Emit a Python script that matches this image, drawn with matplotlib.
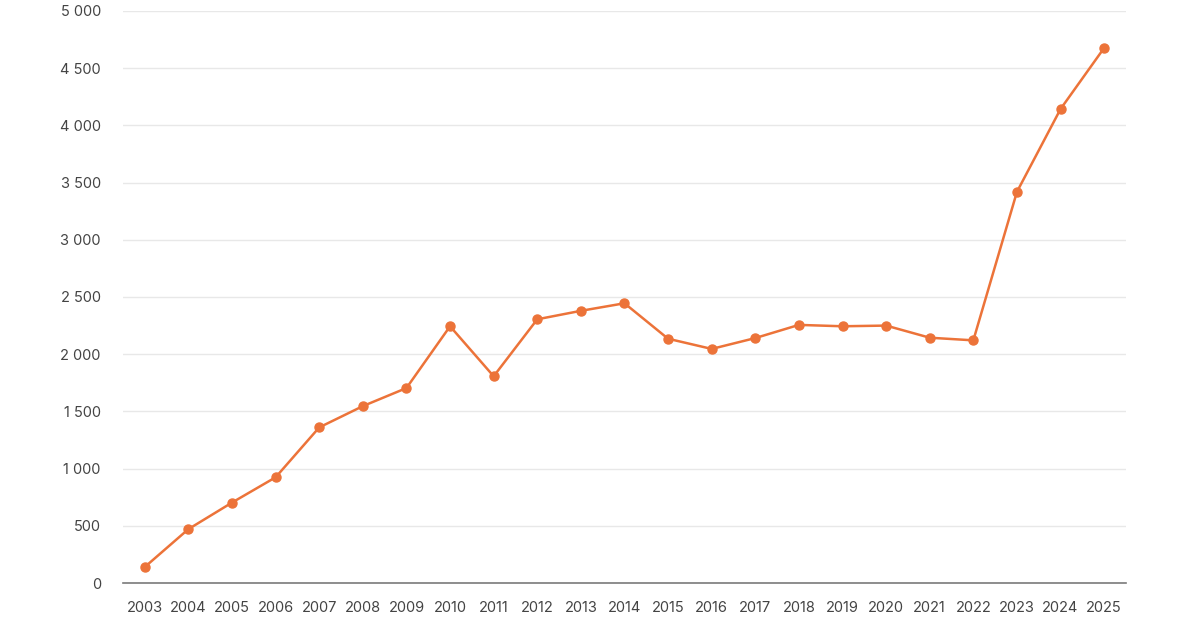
import matplotlib
matplotlib.use('Agg')
import matplotlib.pyplot as plt
from matplotlib.ticker import FuncFormatter

years = list(range(2003, 2026))
values = [140, 471, 703, 924, 1360, 1546, 1704, 2244, 1807, 2305, 2379, 2445,
          2135, 2046, 2141, 2256, 2244, 2250, 2144, 2121, 3419, 4143, 4677]
yticks = [0, 500, 1000, 1500, 2000, 2500, 3000, 3500, 4000, 4500, 5000]

plt.rcParams['font.family'] = ['Inter', 'DejaVu Sans']

fig = plt.figure(figsize=(12, 6.3), dpi=100)
ax = fig.add_axes([0.1025, 0.0746, 0.8358, 0.908])

ax.plot(years, values, color='#EC7339', linewidth=1.8, marker='o',
        markersize=6.5, zorder=3)

ax.set_xlim(2002.5, 2025.5)
ax.set_ylim(0, 5000)
ax.set_xticks(years)
ax.set_xticklabels([str(y) for y in years])
ax.set_yticks(yticks)
ax.yaxis.set_major_formatter(FuncFormatter(lambda v, p: f"{int(v):,}".replace(',', ' ')))

ax.grid(axis='y', color='#e8e8e8', linewidth=1)
ax.set_axisbelow(True)
for s in ['top', 'right', 'left']:
    ax.spines[s].set_visible(False)
ax.spines['bottom'].set_color('#7a7a7a')
ax.spines['bottom'].set_linewidth(1.2)
ax.spines['bottom'].set_zorder(4)

ax.tick_params(axis='both', length=0, labelsize=10.5, labelcolor='#444444')
ax.tick_params(axis='x', pad=13)
ax.tick_params(axis='y', pad=16)

fig.savefig('out.png', dpi=100, facecolor='white')
